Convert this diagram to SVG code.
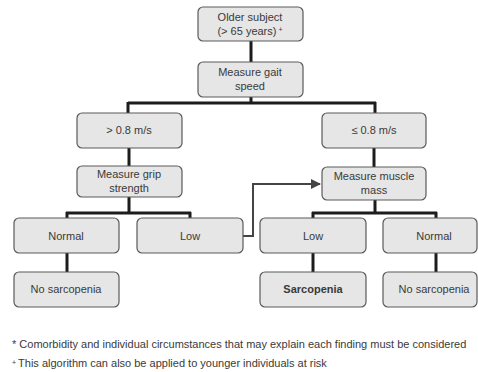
<svg xmlns="http://www.w3.org/2000/svg" width="478" height="372" viewBox="0 0 478 372">
<defs>
<style>
.box{fill:#e6e6e6;stroke:#5a5a5a;stroke-width:1.2}
.t{font-family:"Liberation Sans",Arial,sans-serif;font-size:11px;fill:#3a3a3a;text-anchor:middle}
.b{font-weight:bold}
.c{fill:none;stroke:#1c1c1c;stroke-width:3}
.a{fill:none;stroke:#444;stroke-width:2}
.f{font-family:"Liberation Sans",Arial,sans-serif;font-size:11px;fill:#3a3a3a}
.sup{font-size:7px}
</style>
<marker id="arr" viewBox="0 0 10 10" refX="9" refY="5" markerWidth="5" markerHeight="5" orient="auto" markerUnits="strokeWidth">
<path d="M0,0 L10,5 L0,10 z" fill="#444"/>
</marker>
</defs>
<rect width="478" height="372" fill="#fff"/>
<g id="connectors">
<path class="c" d="M251,41 V62"/>
<path class="c" d="M251,97 V103 M128,103 H376 M128,102 V113 M375,102 V113"/>
<path class="c" d="M129,148 V166"/>
<path class="c" d="M374,148 V167"/>
<path class="c" d="M129,197 V213 M66,213 H191 M67,212 V218 M190,212 V218"/>
<path class="c" d="M375,200 V213 M312,213 H437 M313,212 V218 M436,212 V218"/>
<path class="c" d="M67,253 V272"/>
<path class="c" d="M313,253 V272"/>
<path class="c" d="M436,253 V272"/>
<path class="a" d="M243,236 H253 V184 H320" marker-end="url(#arr)"/>
</g>
<g id="older">
<rect class="box" x="198" y="7" width="105" height="34" rx="5"/>
<text class="t" x="250" y="21">Older subject</text>
<text class="t" x="250" y="35">(&gt; 65 years)<tspan class="sup" dx="2" dy="-3">+</tspan></text>
</g>
<g id="gait">
<rect class="box" x="198" y="62" width="105" height="35" rx="5"/>
<text class="t" x="250" y="76">Measure gait</text>
<text class="t" x="250" y="90">speed</text>
</g>
<g id="fast">
<rect class="box" x="77" y="113" width="105" height="35" rx="5"/>
<text class="t" x="129" y="134">&gt; 0.8 m/s</text>
</g>
<g id="slow">
<rect class="box" x="322" y="113" width="104" height="35" rx="5"/>
<text class="t" x="374" y="134">≤ 0.8 m/s</text>
</g>
<g id="grip">
<rect class="box" x="77" y="166" width="105" height="31" rx="5"/>
<text class="t" x="129" y="178">Measure grip</text>
<text class="t" x="129" y="192">strength</text>
</g>
<g id="muscle">
<rect class="box" x="322" y="167" width="104" height="33" rx="5"/>
<text class="t" x="374" y="180">Measure muscle</text>
<text class="t" x="374" y="194">mass</text>
</g>
<g id="normal1">
<rect class="box" x="14" y="218" width="105" height="35" rx="5"/>
<text class="t" x="66" y="240">Normal</text>
</g>
<g id="low1">
<rect class="box" x="137" y="218" width="106" height="35" rx="5"/>
<text class="t" x="190" y="240">Low</text>
</g>
<g id="low2">
<rect class="box" x="260" y="218" width="106" height="35" rx="5"/>
<text class="t" x="313" y="240">Low</text>
</g>
<g id="normal2">
<rect class="box" x="383" y="218" width="94" height="35" rx="5"/>
<text class="t" x="434" y="240">Normal</text>
</g>
<g id="nosarc1">
<rect class="box" x="14" y="272" width="105" height="35" rx="5"/>
<text class="t" x="66" y="293">No sarcopenia</text>
</g>
<g id="sarc">
<rect class="box" x="260" y="272" width="106" height="35" rx="5"/>
<text class="t b" x="313" y="293">Sarcopenia</text>
</g>
<g id="nosarc2">
<rect class="box" x="383" y="272" width="94" height="35" rx="5"/>
<text class="t" x="434" y="293">No sarcopenia</text>
</g>
<text class="f" x="12" y="348">* Comorbidity and individual circumstances that may explain each finding must be considered</text>
<text class="f" x="12" y="367"><tspan class="sup" dy="-2">+</tspan><tspan dx="2" dy="2">This algorithm can also be applied to younger individuals at risk</tspan></text>
</svg>
